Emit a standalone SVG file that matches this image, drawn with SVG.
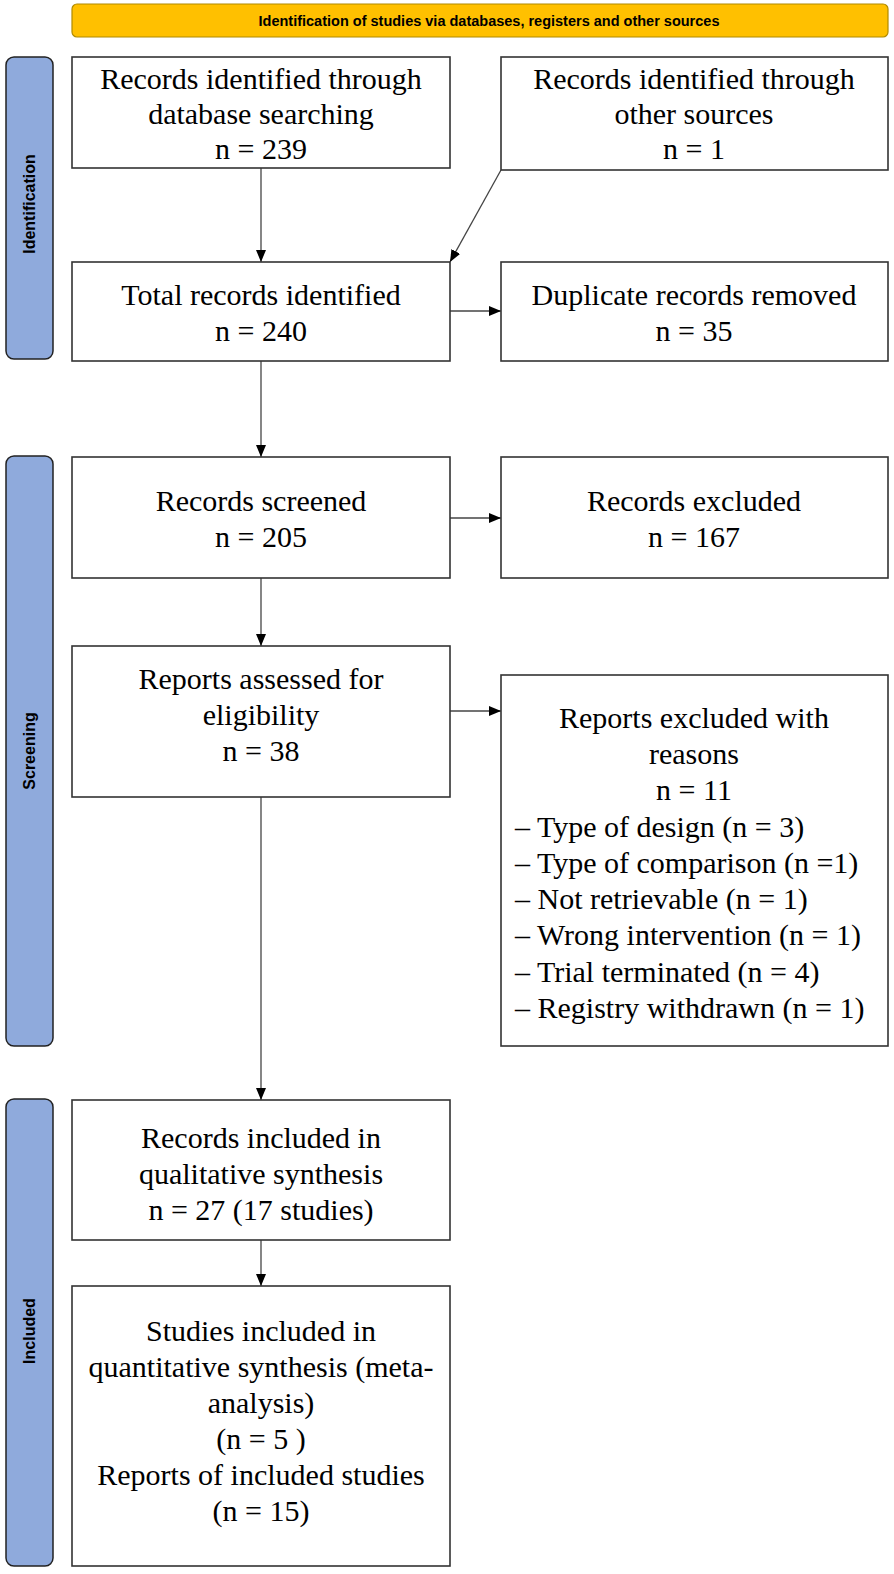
<svg xmlns="http://www.w3.org/2000/svg" width="894" height="1574" viewBox="0 0 894 1574">
<style>
.box{fill:#fff;stroke:#333;stroke-width:1.6}
.t{font-family:"Liberation Serif","Times New Roman",serif;font-size:30px;fill:#000;text-anchor:middle}
.tl{font-family:"Liberation Serif","Times New Roman",serif;font-size:30px;fill:#000}
.bar{fill:#8FAADC;stroke:#222;stroke-width:1.5}
.bt{font-family:"Liberation Sans",Arial,sans-serif;font-size:16px;font-weight:bold;fill:#000;text-anchor:middle}
.ht{font-family:"Liberation Sans",Arial,sans-serif;font-size:14.5px;font-weight:bold;fill:#000;text-anchor:middle}
.c{stroke:#444;stroke-width:1.3;fill:none;marker-end:url(#ah)}
</style>
<defs>
<marker id="ah" markerWidth="12" markerHeight="10" refX="12" refY="5" orient="auto" markerUnits="userSpaceOnUse">
<path d="M0,0 L12,5 L0,10 Z" fill="#000"/>
</marker>
</defs>
<rect width="894" height="1574" fill="#fff"/>
<g id="banner">
<rect x="72" y="4" width="816" height="33" rx="5" fill="#FFC000" stroke="#B08A00" stroke-width="1.2"/>
<text class="ht" x="489" y="26">Identification of studies via databases, registers and other sources</text>
</g>
<g id="bar-identification">
<rect class="bar" x="6" y="57" width="47" height="302" rx="8"/>
<text class="bt" transform="translate(35,204) rotate(-90)">Identification</text>
</g>
<g id="bar-screening">
<rect class="bar" x="6" y="456" width="47" height="590" rx="8"/>
<text class="bt" transform="translate(35,751) rotate(-90)">Screening</text>
</g>
<g id="bar-included">
<rect class="bar" x="6" y="1099" width="47" height="467" rx="8"/>
<text class="bt" transform="translate(35,1331) rotate(-90)">Included</text>
</g>
<g id="connectors">
<line class="c" x1="261" y1="168" x2="261" y2="262"/>
<line class="c" x1="501" y1="170" x2="450" y2="262"/>
<line class="c" x1="450" y1="311" x2="501" y2="311"/>
<line class="c" x1="261" y1="361" x2="261" y2="457"/>
<line class="c" x1="450" y1="518" x2="501" y2="518"/>
<line class="c" x1="261" y1="578" x2="261" y2="646"/>
<line class="c" x1="450" y1="711" x2="501" y2="711"/>
<line class="c" x1="261" y1="797" x2="261" y2="1100"/>
<line class="c" x1="261" y1="1240" x2="261" y2="1286"/>
</g>
<g id="node-db">
<rect class="box" x="72" y="57" width="378" height="111"/>
<text class="t" x="261" y="89">Records identified through</text>
<text class="t" x="261" y="124">database searching</text>
<text class="t" x="261" y="159">n = 239</text>
</g>
<g id="node-other">
<rect class="box" x="501" y="57" width="387" height="113"/>
<text class="t" x="694" y="89">Records identified through</text>
<text class="t" x="694" y="124">other sources</text>
<text class="t" x="694" y="159">n = 1</text>
</g>
<g id="node-total">
<rect class="box" x="72" y="262" width="378" height="99"/>
<text class="t" x="261" y="305">Total records identified</text>
<text class="t" x="261" y="341">n = 240</text>
</g>
<g id="node-dup">
<rect class="box" x="501" y="262" width="387" height="99"/>
<text class="t" x="694" y="305">Duplicate records removed</text>
<text class="t" x="694" y="341">n = 35</text>
</g>
<g id="node-screened">
<rect class="box" x="72" y="457" width="378" height="121"/>
<text class="t" x="261" y="511">Records screened</text>
<text class="t" x="261" y="547">n = 205</text>
</g>
<g id="node-excluded">
<rect class="box" x="501" y="457" width="387" height="121"/>
<text class="t" x="694" y="511">Records excluded</text>
<text class="t" x="694" y="547">n = 167</text>
</g>
<g id="node-assessed">
<rect class="box" x="72" y="646" width="378" height="151"/>
<text class="t" x="261" y="689">Reports assessed for</text>
<text class="t" x="261" y="725">eligibility</text>
<text class="t" x="261" y="761">n = 38</text>
</g>
<g id="node-reasons">
<rect class="box" x="501" y="675" width="387" height="371"/>
<text class="t" x="694" y="728">Reports excluded with</text>
<text class="t" x="694" y="764">reasons</text>
<text class="t" x="694" y="800">n = 11</text>
<text class="tl" x="515" y="837">– Type of design (n = 3)</text>
<text class="tl" x="515" y="873">– Type of comparison (n =1)</text>
<text class="tl" x="515" y="909">– Not retrievable (n = 1)</text>
<text class="tl" x="515" y="945">– Wrong intervention (n = 1)</text>
<text class="tl" x="515" y="982">– Trial terminated (n = 4)</text>
<text class="tl" x="515" y="1018">– Registry withdrawn (n = 1)</text>
</g>
<g id="node-qual">
<rect class="box" x="72" y="1100" width="378" height="140"/>
<text class="t" x="261" y="1148">Records included in</text>
<text class="t" x="261" y="1184">qualitative synthesis</text>
<text class="t" x="261" y="1220">n = 27 (17 studies)</text>
</g>
<g id="node-quant">
<rect class="box" x="72" y="1286" width="378" height="280"/>
<text class="t" x="261" y="1341">Studies included in</text>
<text class="t" x="261" y="1377">quantitative synthesis (meta-</text>
<text class="t" x="261" y="1413">analysis)</text>
<text class="t" x="261" y="1449">(n = 5 )</text>
<text class="t" x="261" y="1485">Reports of included studies</text>
<text class="t" x="261" y="1521">(n = 15)</text>
</g>
</svg>
